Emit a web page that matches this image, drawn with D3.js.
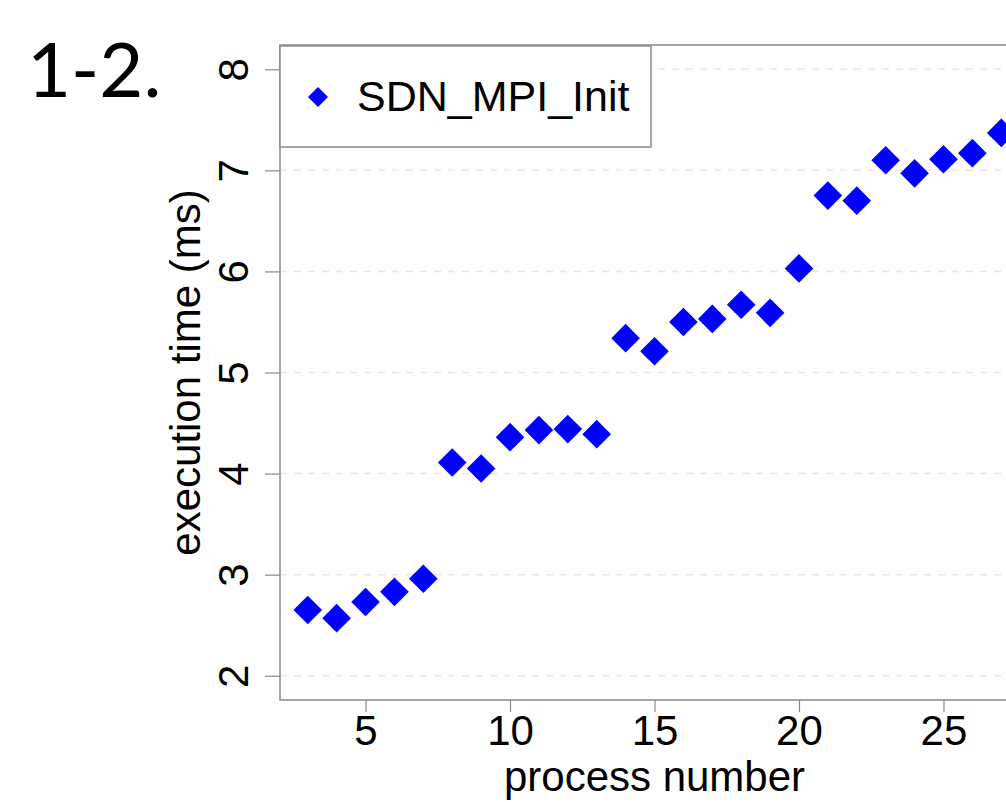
<!DOCTYPE html>
<html>
<head>
<meta charset="utf-8">
<script src="https://cdn.jsdelivr.net/npm/d3@7"></script>
<style>
  body { margin: 0; background: #fff; }
  svg { display: block; }
</style>
</head>
<body>
<svg id="chart" width="1006" height="802"></svg>
<script>
// process numbers and their execution times (ms)
const processes = [3, 4, 5, 6, 7, 8, 9, 10, 11, 12, 13, 14, 15, 16, 17, 18, 19, 20, 21, 22, 23, 24, 25, 26, 27];
const execTimes = [2.65, 2.57, 2.73, 2.83, 2.96, 4.11, 4.05, 4.36, 4.43, 4.44, 4.39, 5.34, 5.21, 5.50, 5.53, 5.67, 5.59, 6.03, 6.75, 6.70, 7.10, 6.97, 7.11, 7.17, 7.37];
const xTicks = [5, 10, 15, 20, 25];
const yTicks = [2, 3, 4, 5, 6, 7, 8];
const seriesName = "SDN_MPI_Init";

const svg = d3.select("#chart"),
    plotL = 280, plotT = 45, plotR = 1029, plotB = 700;

const x = d3.scaleLinear().domain([2.04, 27.96]).range([plotL, plotR]);
const y = d3.scaleLinear().domain([1.76, 8.24]).range([plotB, plotT]);

const axisColor = "#8a8a8a",
    font = "'Liberation Sans', Arial, sans-serif";

// dashed grid at each y tick
svg.append("g")
  .selectAll("line")
  .data(yTicks)
  .enter().append("line")
    .attr("x1", plotL).attr("x2", plotR)
    .attr("y1", d => y(d)).attr("y2", d => y(d))
    .attr("stroke", "#eee6d8")
    .attr("stroke-width", 1.5)
    .attr("stroke-dasharray", "7,7");

// plot box
svg.append("rect")
    .attr("x", plotL).attr("y", plotT)
    .attr("width", plotR - plotL).attr("height", plotB - plotT)
    .attr("fill", "none")
    .attr("stroke", axisColor)
    .attr("stroke-width", 1.5);

// x axis
const xAxis = svg.append("g")
    .attr("transform", "translate(0," + plotB + ")")
    .call(d3.axisBottom(x).tickValues(xTicks).tickFormat(d3.format("d")).tickSize(12));
xAxis.select(".domain").remove();
xAxis.selectAll("line").attr("stroke", axisColor).attr("stroke-width", 1.2);
xAxis.selectAll("text")
    .attr("font-family", font).attr("font-size", 42).attr("fill", "#000")
    .attr("dy", null).attr("y", 45);

// y axis, labels rotated like R's default
const yAxis = svg.append("g")
    .attr("transform", "translate(" + plotL + ",0)")
    .call(d3.axisLeft(y).tickValues(yTicks).tickFormat(d3.format("d")).tickSize(15));
yAxis.select(".domain").remove();
yAxis.selectAll("line").attr("stroke", axisColor).attr("stroke-width", 1.2);
yAxis.selectAll("text")
    .attr("font-family", font).attr("font-size", 42).attr("fill", "#000")
    .attr("x", null).attr("dy", null)
    .attr("text-anchor", "middle")
    .attr("transform", "translate(-32,0) rotate(-90)");

// axis titles
svg.append("text")
    .attr("x", (plotL + plotR) / 2).attr("y", 791)
    .attr("text-anchor", "middle")
    .attr("font-family", font).attr("font-size", 42).attr("fill", "#000")
    .text("process number");

svg.append("text")
    .attr("transform", "translate(200," + (plotT + plotB) / 2 + ") rotate(-90)")
    .attr("text-anchor", "middle")
    .attr("font-family", font).attr("font-size", 42).attr("fill", "#000")
    .text("execution time (ms)");

// points
const diamond = d3.symbol().type(d3.symbolSquare).size(410);
svg.append("g")
  .selectAll("path")
  .data(processes)
  .enter().append("path")
    .attr("d", diamond)
    .attr("transform", (d, i) => "translate(" + x(d) + "," + y(execTimes[i]) + ") rotate(45)")
    .attr("fill", "#0000ff");

// legend
const legend = svg.append("g");
legend.append("rect")
    .attr("x", plotL).attr("y", plotT + 1)
    .attr("width", 371).attr("height", 101)
    .attr("fill", "#fff")
    .attr("stroke", axisColor)
    .attr("stroke-width", 1.5);
legend.append("path")
    .attr("d", d3.symbol().type(d3.symbolSquare).size(200))
    .attr("transform", "translate(318,97) rotate(45)")
    .attr("fill", "#0000ff");
legend.append("text")
    .attr("x", 357).attr("y", 111)
    .attr("font-family", font).attr("font-size", 43).attr("fill", "#000")
    .text(seriesName);

// panel label
svg.append("text")
    .attr("x", 27).attr("y", 97)
    .attr("font-family", "Lato, 'Open Sans', sans-serif")
    .attr("font-size", 76).attr("fill", "#000")
    .text("1-2.");
</script>
</body>
</html>
